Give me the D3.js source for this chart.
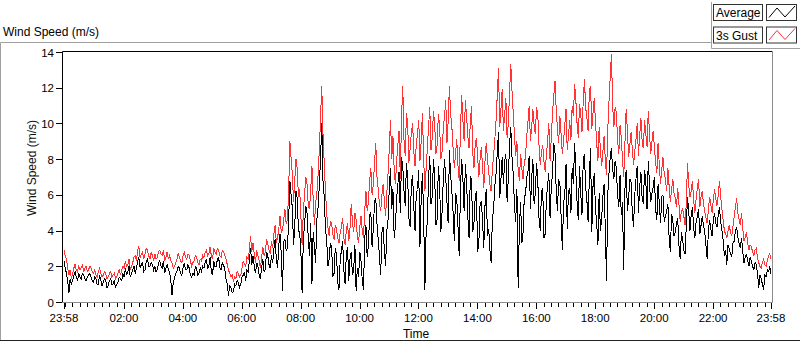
<!DOCTYPE html>
<html>
<head>
<meta charset="utf-8">
<script src="https://cdn.jsdelivr.net/npm/d3@7/dist/d3.min.js"></script>
<style>
  body { margin:0; background:#fff; }
  svg { display:block; font-family:"Liberation Sans", Arial, sans-serif; }
</style>
</head>
<body>
<svg id="chart" width="800" height="342"></svg>
<script>
// one sample every 2.5 min, starting 23:58 the day before
const stepMinutes = 2.5;

const gust = [
  2.9,2.6,2.4,1.9,1.5,1.8,1.3,1.6,1.9,2.1,1.8,1.7,2.0,1.8,1.9,2.1,1.7,1.9,2.0,1.7,1.8,2.0,1.9,1.7,1.6,1.8,1.5,1.4,1.7,1.9,1.6,1.4,
  1.5,1.7,1.6,1.3,1.4,1.6,1.7,1.4,1.5,1.6,1.3,1.4,1.6,1.8,1.5,1.8,2.0,1.9,2.3,2.0,2.1,2.4,1.8,2.0,2.2,2.5,2.6,2.3,2.9,3.1,2.5,2.7,2.8,2.4,2.7,3.0,2.9,2.6,2.4,2.8,2.6,2.3,
  2.7,2.4,2.5,2.8,2.9,2.7,2.6,2.9,2.3,2.5,2.8,2.4,2.6,2.3,2.2,1.9,2.0,2.2,2.4,2.7,2.5,2.3,2.2,2.6,2.8,2.5,2.4,2.7,2.6,2.3,2.0,2.2,2.3,2.6,2.5,2.2,2.1,2.4,2.3,2.6,
  2.5,2.8,2.9,2.6,2.7,3.1,2.6,2.4,3.0,2.8,2.7,3.0,2.9,2.6,2.5,2.9,2.8,2.6,2.4,2.1,1.8,1.6,1.4,1.5,1.2,1.4,1.3,1.7,1.6,1.4,1.5,1.9,2.3,2.1,2.0,2.5,2.4,2.9,3.7,2.8,
  3.3,2.7,2.2,2.9,2.6,2.3,1.9,2.5,3.1,2.6,2.8,3.5,3.3,2.9,2.7,3.4,3.0,3.8,4.3,3.3,3.6,4.1,4.8,3.9,4.0,4.6,5.2,4.4,4.6,6.1,9.0,8.1,7.2,5.6,6.8,8.0,7.5,5.9,6.3,4.8,3.2,5.1,
  6.0,7.0,6.6,5.4,5.2,6.3,7.6,5.8,4.3,5.5,6.1,7.1,8.5,10.3,12.1,9.4,7.8,6.2,5.0,4.2,3.7,4.5,4.4,3.8,3.5,4.3,4.1,3.6,3.3,3.9,4.2,4.7,3.6,3.2,4.0,4.4,3.4,4.1,5.5,4.5,
  3.9,5.0,4.6,3.7,3.3,4.2,4.8,4.0,3.6,5.1,6.2,5.1,5.6,6.8,7.5,6.0,6.6,7.8,8.9,7.0,6.3,5.5,5.1,6.0,6.6,5.7,4.8,6.1,7.2,8.6,10.2,8.0,9.3,7.4,6.6,7.9,8.8,9.6,6.9,10.4,
  12.1,9.1,8.2,10.6,9.9,7.8,8.6,9.5,10.0,8.4,7.6,8.8,9.4,10.2,7.9,9.0,10.6,8.1,6.2,7.4,8.6,9.8,10.9,8.5,9.2,10.7,10.0,8.3,8.8,10.5,9.9,8.0,8.4,9.7,10.4,11.3,8.9,10.1,12.1,10.5,
  9.8,8.6,7.5,8.3,9.1,7.6,6.8,9.7,11.6,10.2,9.0,11.3,10.4,9.3,8.6,10.0,11.0,8.4,7.5,8.8,9.2,8.1,7.0,8.0,8.7,7.6,6.4,7.9,8.9,8.0,7.3,6.6,6.2,7.4,8.2,9.1,10.2,11.6,13.1,9.8,10.8,11.9,
  9.6,10.5,11.4,9.2,10.0,11.7,13.3,11.8,10.6,9.3,8.2,9.0,7.4,6.8,8.3,7.5,6.9,7.8,8.1,9.3,10.1,11.0,9.0,9.8,10.8,9.9,9.4,10.9,10.5,8.8,7.7,8.4,8.8,7.9,7.3,8.2,9.0,10.0,7.9,9.2,
  10.6,11.5,12.4,10.8,9.7,8.9,10.4,9.4,8.3,9.0,9.9,10.8,8.5,9.3,10.2,9.1,11.0,10.4,12.2,11.3,10.0,9.2,11.1,10.5,9.5,11.2,12.5,10.9,10.3,9.6,11.8,12.1,9.7,10.6,11.4,10.1,8.9,7.9,9.8,8.5,
  7.6,8.4,9.3,8.0,7.1,9.6,11.2,12.6,13.9,11.0,9.8,10.9,10.6,9.1,8.3,9.9,9.2,8.0,7.0,8.9,10.8,9.6,8.1,8.8,9.5,8.6,7.7,8.4,9.1,10.0,8.2,9.3,10.3,9.0,8.6,10.2,9.4,8.7,10.7,9.5,8.3,9.0,
  9.6,8.7,7.8,7.2,8.9,7.7,6.6,7.4,8.1,7.2,6.9,6.2,7.5,6.5,5.6,6.3,6.9,6.1,5.8,5.3,6.4,5.5,4.5,5.1,5.2,4.8,4.3,5.6,7.8,6.5,5.9,6.2,6.8,5.7,5.0,5.8,6.4,6.9,5.3,5.9,
  6.2,5.5,5.1,4.7,4.4,5.2,5.9,5.4,5.0,5.7,6.3,5.8,5.4,6.0,6.8,5.9,5.2,4.6,4.0,3.8,3.6,4.0,4.3,3.9,3.7,4.2,4.8,5.3,5.8,5.0,4.6,4.3,5.0,4.1,3.4,3.6,3.9,3.3,2.9,3.2,
  3.1,2.8,2.6,2.9,3.0,2.5,2.2,2.0,1.9,2.2,2.4,2.1,2.0,2.3,2.6,2.7,2.4
];

const average = [
  2.3,1.9,1.6,1.2,0.5,1.3,1.0,1.2,1.5,1.7,1.4,1.2,1.6,1.4,1.3,1.6,1.5,1.3,1.2,1.4,1.5,1.6,1.4,1.2,1.1,1.4,1.3,1.0,1.0,1.5,1.2,0.9,
  1.1,1.3,1.2,0.8,0.9,1.2,1.3,1.0,1.0,1.2,0.8,1.0,1.1,1.4,1.3,1.2,1.6,1.4,1.9,1.5,1.7,2.0,1.4,1.6,1.8,2.0,1.6,1.9,2.3,2.5,1.9,2.1,2.2,1.7,1.8,2.3,2.4,2.0,2.0,2.2,2.1,1.8,
  2.0,1.7,1.8,2.2,2.3,2.0,1.9,2.3,1.6,1.9,2.1,1.8,1.7,1.2,0.4,1.1,1.3,1.6,1.7,2.0,1.9,1.6,1.5,1.9,2.2,1.8,1.8,2.1,1.9,1.5,1.4,1.6,1.5,2.0,1.9,1.5,1.6,1.9,1.7,2.0,
  1.9,2.2,2.4,1.9,2.0,2.5,1.7,1.5,2.3,2.0,2.0,2.4,2.5,1.9,1.8,2.2,2.1,1.8,1.3,1.0,0.35,0.9,0.8,0.5,0.6,1.0,0.9,1.2,1.1,0.8,1.0,1.4,1.5,1.7,1.2,1.8,1.7,2.3,3.0,2.1,
  2.6,2.0,1.6,2.2,2.0,1.5,1.3,1.9,2.4,1.7,1.8,2.8,2.6,2.1,1.9,2.6,2.2,3.0,3.5,2.4,1.9,3.2,3.8,2.7,0.6,3.4,3.5,2.9,3.0,4.5,6.8,6.0,5.3,3.2,4.2,6.2,5.8,4.0,3.9,2.8,0.5,3.6,
  4.3,5.4,5.0,3.6,2.6,4.4,1.0,3.9,3.1,2.2,4.6,5.3,6.5,8.0,10.0,6.8,5.9,4.1,3.5,2.0,2.4,3.3,3.1,1.4,1.6,3.0,2.7,1.1,0.7,2.3,2.9,3.4,1.8,1.0,2.6,3.1,1.2,2.4,2.8,1.5,
  1.8,3.2,0.6,1.9,1.4,2.8,2.3,1.2,0.7,3.6,4.3,2.5,3.2,4.9,5.0,3.1,4.1,5.6,5.8,4.4,3.5,2.6,1.5,3.9,4.2,2.9,2.0,4.0,4.6,6.4,7.5,5.2,6.3,3.6,4.2,5.8,6.6,7.3,5.0,8.1,
  7.6,6.2,5.4,7.8,6.9,4.7,4.2,6.6,7.1,5.3,4.0,6.1,6.3,7.4,3.1,5.8,7.2,4.9,0.7,3.8,4.5,6.9,8.2,5.5,5.9,8.0,7.1,4.3,4.6,7.6,6.7,3.9,5.0,6.8,8.0,7.0,5.6,4.4,8.5,7.1,
  6.2,5.0,3.4,6.1,5.8,4.2,2.6,6.4,8.0,6.9,5.1,7.7,6.7,4.8,3.6,7.0,6.9,3.9,4.4,5.9,6.2,2.8,3.3,5.5,5.6,4.6,3.0,5.4,6.3,3.7,4.1,2.9,2.2,4.6,5.2,6.5,7.2,8.4,9.5,5.8,6.9,8.1,
  6.6,7.9,8.3,5.6,7.0,8.8,9.8,8.1,7.2,5.4,4.5,6.3,0.8,4.2,5.6,3.3,3.9,5.9,6.0,7.0,7.3,8.2,5.2,6.9,8.0,5.5,6.1,7.8,6.8,4.7,4.0,6.2,6.4,3.6,3.8,5.7,6.6,7.2,4.7,6.4,
  7.2,8.9,8.4,6.3,5.1,6.8,6.7,4.8,2.9,5.5,6.0,7.7,4.1,6.2,6.4,5.0,7.5,6.6,8.9,7.3,5.6,4.6,7.6,6.1,4.9,7.9,8.3,6.4,5.7,4.5,7.0,8.6,3.9,6.5,7.2,5.2,4.4,3.2,6.1,4.0,
  4.6,5.9,6.6,4.1,1.2,6.0,7.2,8.1,8.6,7.4,6.9,7.9,7.5,6.0,5.3,7.1,4.9,5.6,1.8,6.3,7.4,5.1,5.8,6.9,6.7,5.0,4.2,6.0,6.9,7.6,5.0,6.4,7.3,5.8,5.5,7.4,6.8,5.2,7.9,6.6,5.6,6.1,
  6.4,7.0,5.2,4.6,6.6,5.5,4.4,5.9,6.0,4.5,4.8,5.1,5.5,3.6,2.8,4.9,4.6,3.7,3.9,4.4,4.7,3.2,2.4,3.9,3.5,2.9,2.7,4.3,5.9,5.0,4.0,4.9,5.3,4.1,3.6,4.5,4.8,5.2,3.8,4.3,
  4.8,4.3,3.9,3.2,2.4,4.0,4.6,4.1,3.7,4.6,5.0,4.4,4.2,4.9,5.3,4.5,4.0,3.5,2.6,2.9,2.1,3.2,3.0,2.7,2.5,3.3,3.4,4.0,4.2,3.6,3.3,3.0,3.6,2.8,2.2,2.5,2.7,2.3,2.0,2.5,
  2.3,2.0,1.8,2.2,2.1,1.6,0.8,1.5,1.3,1.0,0.7,1.5,1.4,1.8,1.7,2.0,1.6
];

const yTicks = [0,2,4,6,8,10,12,14];
const timeTicks = [0,122,242,362,482,602,722,842,962,1082,1202,1322,1440]; // minutes from 23:58
const timeLabels = ["23:58","02:00","04:00","06:00","08:00","10:00","12:00","14:00","16:00","18:00","20:00","22:00","23:58"];
const seriesNames = ["Average","3s Gust"];
const seriesColors = ["#000000","#ff3333"];

const svg = d3.select("#chart");

const x = d3.scaleLinear().domain([0,1440]).range([64,771]);
const y = d3.scaleLinear().domain([0,14]).range([302,52]);

// panel frame
const frame = svg.append("g").attr("fill","none");
frame.append("path").attr("d","M0.5,341V42.5H711.5").attr("stroke","#a0a0a0");
frame.append("path").attr("d","M711.5,2V48.5H800").attr("stroke","#a0a0a0");
frame.append("path").attr("d","M0,340.5H800").attr("stroke","#222");

svg.append("text")
  .attr("x",3).attr("y",36)
  .attr("font-size",12).attr("fill","#000")
  .text("Wind Speed (m/s)");

// plot area
svg.append("clipPath").attr("id","clip")
  .append("rect").attr("x",63).attr("y",52).attr("width",709).attr("height",251);

const line = d3.line()
  .x((d,i)=>x(i*stepMinutes))
  .y(d=>y(d));

// labview draws plots without antialiasing
const plot = svg.append("g").attr("clip-path","url(#clip)")
  .attr("shape-rendering","crispEdges");
plot.append("path").datum(gust)
  .attr("d",line).attr("fill","none")
  .attr("stroke",seriesColors[1]).attr("stroke-width",1);
plot.append("path").datum(average)
  .attr("d",line).attr("fill","none")
  .attr("stroke",seriesColors[0]).attr("stroke-width",1);

frame.append("path").attr("d","M62.5,303V51.5H772").attr("stroke","#000");
frame.append("path").attr("d","M772.5,51V302.5H62").attr("stroke","#8a8a8a");

// y axis
const yAxis = svg.append("g").attr("font-size",11.5).attr("fill","#000");
yAxis.selectAll("line").data(yTicks).join("line")
  .attr("x1",56).attr("x2",62)
  .attr("y1",d=>Math.round(y(d))+0.5).attr("y2",d=>Math.round(y(d))+0.5)
  .attr("stroke","#000");
yAxis.selectAll("text").data(yTicks).join("text")
  .attr("x",54).attr("y",d=>y(d)+4.5)
  .attr("text-anchor","end")
  .text(d=>d);
svg.append("text")
  .attr("transform","translate(36,168) rotate(-90)")
  .attr("text-anchor","middle")
  .attr("font-size",12).attr("fill","#111")
  .text("Wind Speed (m/s)");

// x axis
const xAxis = svg.append("g").attr("font-size",11.5).attr("fill","#000");
xAxis.selectAll("line.minor").data(d3.range(2,1440,15)).join("line")
  .attr("class","minor")
  .attr("x1",d=>Math.round(x(d))+0.5).attr("x2",d=>Math.round(x(d))+0.5)
  .attr("y1",303).attr("y2",307)
  .attr("stroke","#000");
xAxis.selectAll("line.major").data(timeTicks).join("line")
  .attr("class","major")
  .attr("x1",d=>Math.round(x(d))+0.5).attr("x2",d=>Math.round(x(d))+0.5)
  .attr("y1",303).attr("y2",309)
  .attr("stroke","#000");
xAxis.selectAll("text").data(timeTicks).join("text")
  .attr("x",d=>x(d)).attr("y",322)
  .attr("text-anchor","middle")
  .text((d,i)=>timeLabels[i]);
svg.append("text")
  .attr("x",416).attr("y",338)
  .attr("text-anchor","middle")
  .attr("font-size",12).attr("fill","#000")
  .text("Time");

// legend
const legend = svg.append("g").selectAll("g").data(seriesNames).join("g")
  .attr("transform",(d,i)=>`translate(0,${i*22.5})`);
legend.append("rect")
  .attr("x",713.5).attr("y",4.5).attr("width",49).attr("height",16)
  .attr("fill","#fff").attr("stroke","#333");
legend.append("text")
  .attr("x",716).attr("y",17)
  .attr("font-size",12).attr("fill","#000")
  .text(d=>d);
legend.append("rect")
  .attr("x",766.5).attr("y",4.5).attr("width",30).attr("height",16)
  .attr("fill","#fff").attr("stroke","#333");
legend.append("path")
  .attr("d","M769,17.5L777,8L785,17L795,6")
  .attr("fill","none")
  .attr("stroke",(d,i)=>seriesColors[i]);
</script>
</body>
</html>
